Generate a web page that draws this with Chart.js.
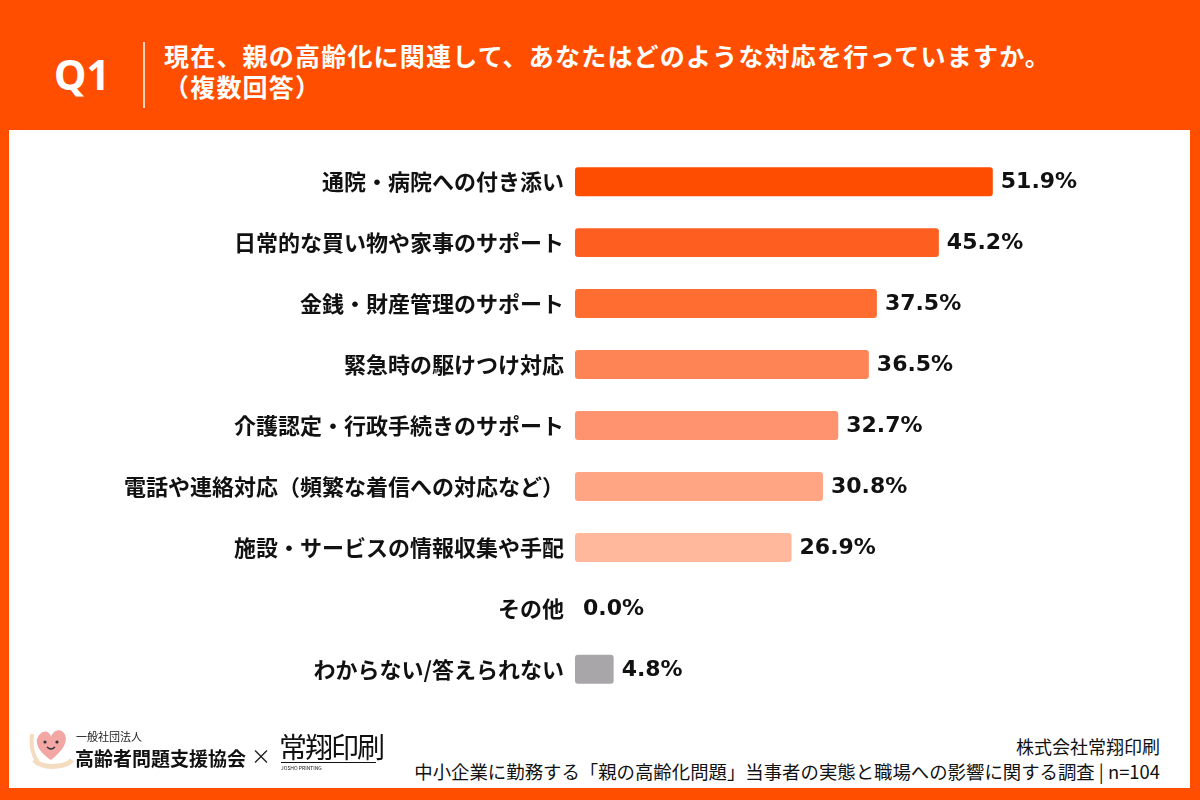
<!DOCTYPE html>
<html lang="ja">
<head>
<meta charset="utf-8">
<script src="https://cdn.jsdelivr.net/npm/chart.js@4.4.1/dist/chart.umd.min.js"></script>
<style>
  html, body { margin: 0; padding: 0; }
  body {
    width: 1200px; height: 800px; position: relative; overflow: hidden;
    background: #ff4e00;
    font-family: "Noto Sans CJK JP", "Noto Sans", sans-serif;
  }
  .q {
    position: absolute; left: 54px; top: 49px;
    color: #fff; font-size: 41px; font-weight: 700; font-family: "Noto Sans", "Noto Sans CJK JP", sans-serif;
    line-height: 50px;
  }
  .divider { position: absolute; left: 143px; top: 42px; width: 2px; height: 66px; background: #ffd2bd; }
  .title {
    position: absolute; left: 164px; top: 40px;
    color: #fff; font-size: 25px; font-weight: 700; line-height: 31px; letter-spacing: 1.2px;
  }
  .panel { position: absolute; left: 9px; top: 130px; width: 1181px; height: 658px; background: #fff; }
  #wrap { position: absolute; left: 0; top: 127px; width: 1200px; height: 597px; }
  .org-small { position: absolute; left: 76px; top: 728px; font-size: 11px; color: #222; }
  .org { position: absolute; left: 75px; top: 744px; font-size: 19px; font-weight: 700; color: #111; }
  .times { position: absolute; left: 251px; top: 741px; font-size: 20px; color: #222; }
  .logo2 { position: absolute; left: 279px; top: 730px; font-size: 28px; color: #111; letter-spacing: -2px; line-height: 32px; font-weight: 400; }
  .logo2sub { position: absolute; left: 281px; top: 762px; font-size: 5px; color: #111; border-top: 1px solid #111; width: 95px; padding-top: 1px; }
  .src1 { position: absolute; right: 40px; top: 733px; font-size: 18px; color: #111; }
  .src2 { position: absolute; right: 40px; top: 758px; font-size: 18.4px; color: #111; }
  .heart { position: absolute; left: 28px; top: 722px; }
</style>
</head>
<body>
<div class="q">Q1</div>
<div class="divider"></div>
<div class="title">現在、親の高齢化に関連して、あなたはどのような対応を行っていますか。<br>（複数回答）</div>
<div class="panel"></div>
<div id="wrap"><canvas id="chart"></canvas></div>

<svg class="heart" width="46" height="50" viewBox="0 0 46 50">
  <path d="M6 38 Q14 46 30 44 Q40 43 44 38" stroke="#f3dcc0" stroke-width="5" fill="none"/>
  <path d="M4 12 Q2 30 10 40" stroke="#f3dcc0" stroke-width="4" fill="none"/>
  <path d="M23 38 C8 28 6 18 12 12 C17 7 22 10 23 15 C25 8 32 6 36 11 C41 18 36 28 23 38 Z" fill="#f2a7a4"/>
  <circle cx="17" cy="20" r="1.6" fill="#333"/>
  <circle cx="29" cy="20" r="1.6" fill="#333"/>
  <path d="M19 25 Q23 29 27 25" stroke="#333" stroke-width="1.3" fill="none"/>
</svg>
<div class="org-small">一般社団法人</div>
<div class="org">高齢者問題支援協会</div>
<div class="times">×</div>
<div class="logo2">常翔印刷</div>
<div class="logo2sub">JOSHO PRINTING</div>
<div class="src1">株式会社常翔印刷</div>
<div class="src2">中小企業に勤務する「親の高齢化問題」当事者の実態と職場への影響に関する調査 | n=104</div>

<script>
const categories = [
    '通院・病院への付き添い',
    '日常的な買い物や家事のサポート',
    '金銭・財産管理のサポート',
    '緊急時の駆けつけ対応',
    '介護認定・行政手続きのサポート',
    '電話や連絡対応（頻繁な着信への対応など）',
    '施設・サービスの情報収集や手配',
    'その他',
    'わからない/答えられない'
];
const values = [51.9, 45.2, 37.5, 36.5, 32.7, 30.8, 26.9, 0.0, 4.8];
const barColors = ['#ff4d00', '#ff5e21', '#ff6d30', '#ff8455', '#ff936f', '#ffa584', '#ffb89b', '#ffc9b0', '#a9a6a9'];

const valueLabels = {
    id: 'valueLabels',
    afterDatasetsDraw(chart) {
        const ctx = chart.ctx;
        const meta = chart.getDatasetMeta(0);
        ctx.save();
        ctx.font = '700 22px "DejaVu Sans", "Noto Sans", sans-serif';
        ctx.fillStyle = '#111';
        ctx.textAlign = 'left';
        ctx.textBaseline = 'middle';
        meta.data.forEach((bar, i) => {
            ctx.fillText(values[i].toFixed(1) + '%', bar.x + 8, bar.y + 1);
        });
        ctx.restore();
    }
};

const ctx = document.getElementById('chart').getContext('2d');
new Chart(ctx, {
    type: 'bar',
    data: {
        labels: categories,
        datasets: [{
            data: values,
            backgroundColor: barColors,
            borderRadius: 3,
            borderSkipped: false,
            categoryPercentage: 1,
            barPercentage: 0.475
        }]
    },
    options: {
        indexAxis: 'y',
        responsive: true,
        maintainAspectRatio: false,
        animation: false,
        layout: {
            padding: { top: 10, bottom: 19, right: 142, left: 0 }
        },
        scales: {
            x: {
                display: false,
                min: 0,
                max: 60
            },
            y: {
                afterFit(scale) { scale.width = 575; },
                grid: { display: false, drawTicks: false },
                border: { display: false },
                ticks: {
                    padding: 11,
                    color: '#111',
                    font: { family: '"Noto Sans CJK JP", sans-serif', size: 22, weight: '700' }
                }
            }
        },
        plugins: {
            legend: { display: false },
            tooltip: { enabled: false }
        }
    },
    plugins: [valueLabels]
});
</script>
</body>
</html>
